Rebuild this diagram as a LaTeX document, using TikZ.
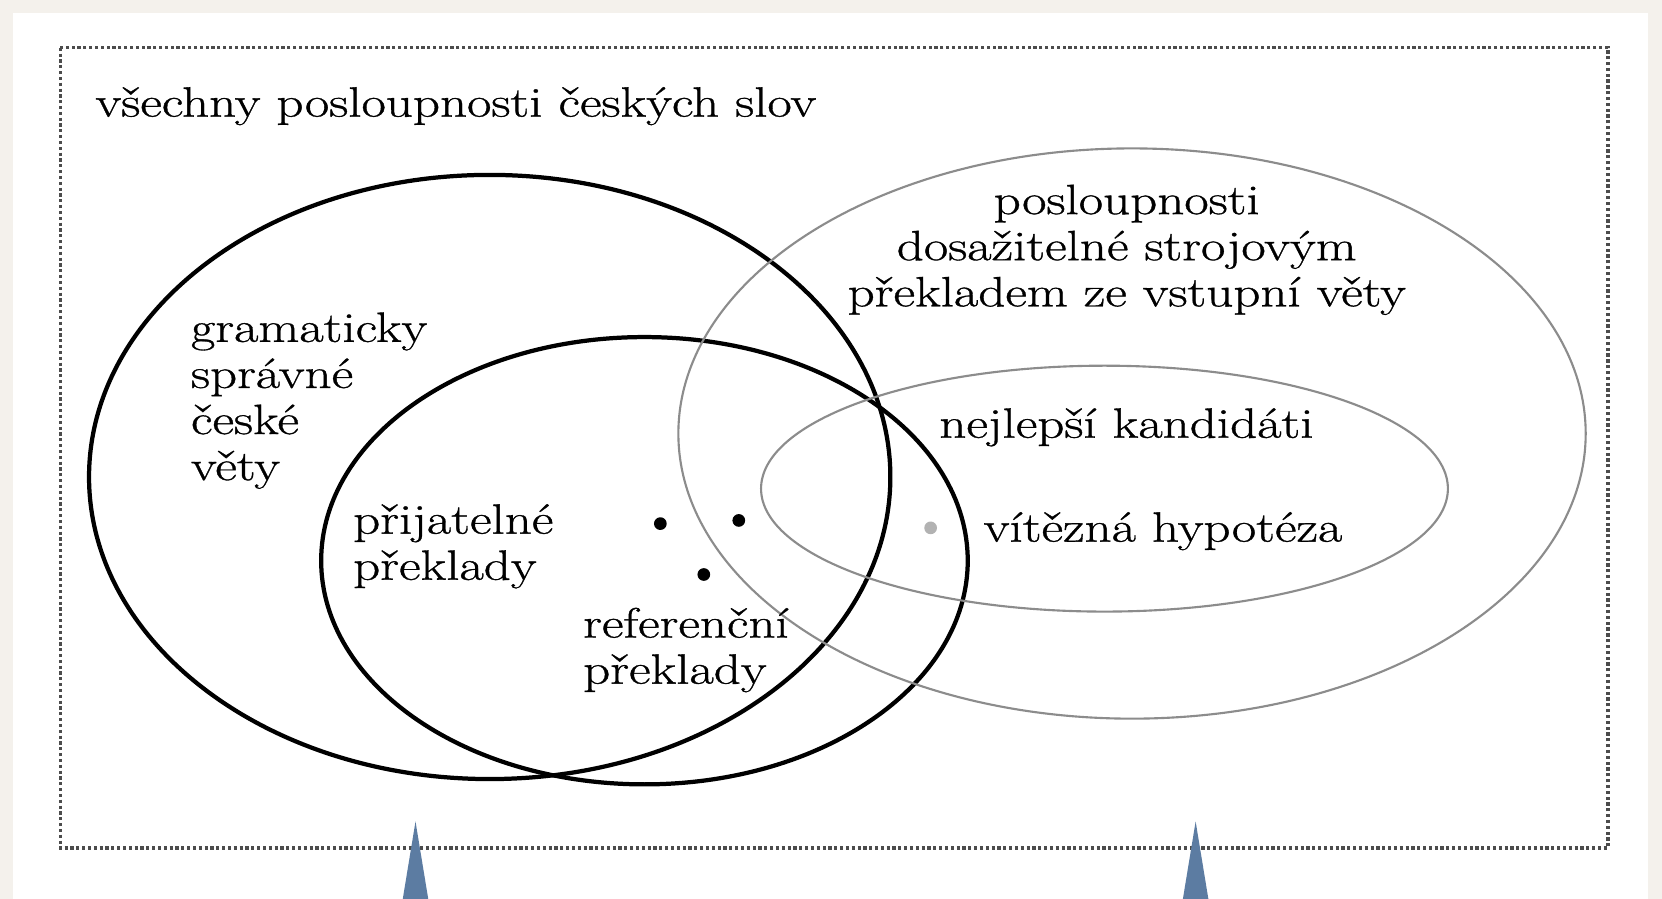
\documentclass[tikz,border=0pt]{standalone}
\usepackage{fontspec}
\setmainfont{Latin Modern Roman}[FakeStretch=1.25, FakeBold=0.8]
\definecolor{pagebg}{HTML}{F4F1EC}
\definecolor{tipblue}{HTML}{5C7CA2}
\tikzset{
    setbox/.style={line width=4pt, black},
    candbox/.style={line width=2pt, black!45},
    lbl/.style={anchor=base west, align=left, inner sep=0pt, font=\fontsize{40}{43.5}\selectfont},
    hyp/.style={circle, fill=#1, inner sep=0pt, minimum size=12pt}
}
\begin{document}
\begin{tikzpicture}[x=1pt,y=-1pt]
    \useasboundingbox (0,0) rectangle (1568,848);
    \fill[pagebg] (0,0) rectangle (1568,848);
    \fill[white] (12,12) rectangle (1555,848);
    \draw[dash pattern=on 3pt off 2.5pt, line width=3pt, black!70] (57,45) rectangle (1517,800);
    \node[lbl] (allseq) at (90,110) {všechny posloupnosti českých slov};
    % mnoziny
    \draw[setbox] (462,450) ellipse [x radius=378, y radius=285];
    \draw[setbox] (608,529) ellipse [x radius=305, y radius=211];
    \draw[candbox] (1068,409) ellipse [x radius=428, y radius=269];
    \draw[candbox] (1042,461) ellipse [x radius=324, y radius=116];
    % popisky (base = posledni radek)
    \node[lbl] (gram) at (180,453) {gramaticky\\správné\\české\\věty};
    \node[lbl] (accept) at (333,547) {přijatelné\\překlady};
    \node[lbl] (refs) at (550,645) {referenční\\překlady};
    \node[lbl, anchor=base, align=center] (reach) at (1063,289) {posloupnosti\\dosažitelné strojovým\\překladem ze vstupní věty};
    \node[lbl] (best) at (886,413) {nejlepší kandidáti};
    \node[lbl] (win) at (928,511) {vítězná hypotéza};
    % body
    \foreach \x/\y [count=\i] in {623/494, 697/491, 664/542}
        \node[hyp=black] (ref\i) at (\x,\y) {};
    \node[hyp=black!30] (winner) at (878,498) {};
    % sipky
    \foreach \x in {392,1128}
        \fill[tipblue] (\x-12,848) -- (\x,775) -- (\x+12,848) -- cycle;
\end{tikzpicture}
\end{document}
